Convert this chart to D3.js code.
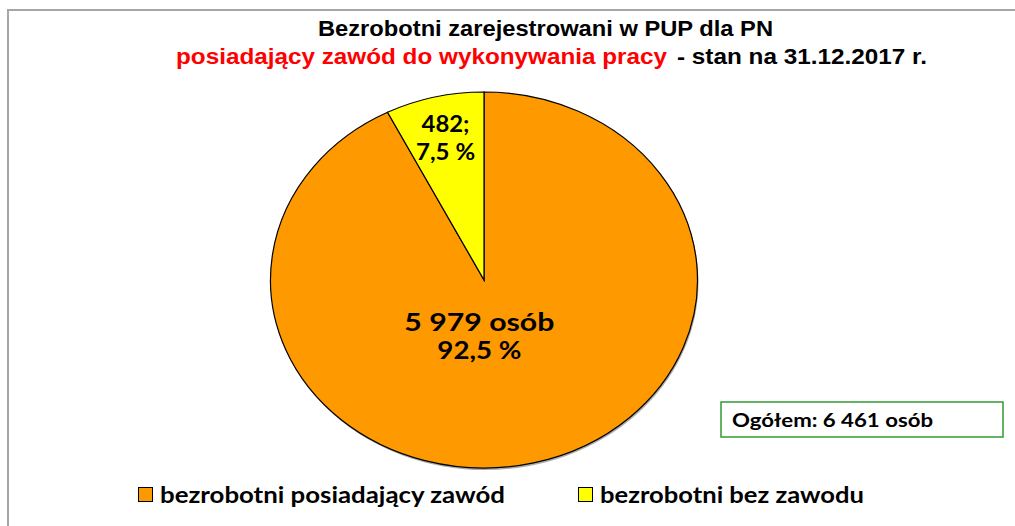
<!DOCTYPE html>
<html>
<head>
<meta charset="utf-8">
<script src="https://cdn.jsdelivr.net/npm/d3@7"></script>
<style>
    body { margin: 0; background: #fff; }
    text { font-family: Lato, "Open Sans", sans-serif; font-weight: bold; }
    text.title { font-family: "Liberation Sans", Arial, sans-serif; }
</style>
</head>
<body>
<svg id="drawing_region"></svg>
<script>
// data
const categories = ['bezrobotni posiadający zawód', 'bezrobotni bez zawodu'];
const values = [5979, 482];
const colors = ['#FF9900', '#FFFF00'];
const slice_labels = [['5 979 osób', '92,5 %'], ['482;', '7,5 %']];
const total_label = 'Ogółem: 6 461 osób';
const title_line1 = 'Bezrobotni zarejestrowani w PUP dla PN';
const title_red = 'posiadający zawód do wykonywania pracy';
const title_black = '- stan na 31.12.2017 r.';

var config = {
    parent: '#drawing_region',
    width: 1015,
    height: 526,
    cx: 484,
    cy: 280,
    rx: 213.5,
    ry: 188
};

class PieChart {

    constructor( config, data ) {
        this.config = config;
        this.data = data;
        this.init();
    }

    init() {
        let self = this;

        self.svg = d3.select( self.config.parent )
            .attr('width', self.config.width)
            .attr('height', self.config.height);

        // grey frame (left and top only)
        self.frame = self.svg.append('path')
            .attr('d', `M8,${self.config.height} V10 H${self.config.width}`)
            .attr('fill', 'none')
            .attr('stroke', '#a6a6a6')
            .attr('stroke-width', 2);

        self.pie = d3.pie()
            .sort(null)
            .value( d => d.value );

        self.arc = d3.arc()
            .innerRadius(0)
            .outerRadius(self.config.ry);

        // soft shadow under the pie
        self.svg.append('ellipse')
            .attr('cx', self.config.cx + 1)
            .attr('cy', self.config.cy + 2)
            .attr('rx', self.config.rx)
            .attr('ry', self.config.ry)
            .attr('fill', '#555')
            .attr('opacity', 0.5);

        self.chart = self.svg.append('g')
            .attr('transform', `translate(${self.config.cx}, ${self.config.cy}) scale(${self.config.rx / self.config.ry}, 1)`);
    }

    render() {
        let self = this;
        const sx = self.config.rx / self.config.ry;
        const arcs = self.pie( self.data );

        self.chart.selectAll('path')
            .data(arcs)
            .enter()
            .append('path')
            .attr('d', self.arc)
            .attr('fill', d => d.data.color)
            .attr('stroke', '#000')
            .attr('stroke-width', 1.2)
            .attr('vector-effect', 'non-scaling-stroke');

        // slice labels
        const label_r = [0.31, 0.775];
        const label_size = [24, 22];
        const label_len = [[150, 84], [48, 59]];
        arcs.forEach( (d, i) => {
            const a = (d.startAngle + d.endAngle) / 2;
            const r = self.config.ry * label_r[i];
            const x = self.config.cx + Math.sin(a) * r * sx - (i == 0 ? 20 : 0);
            const y = self.config.cy - Math.cos(a) * r;
            d.data.label.forEach( (t, j) => {
                self.svg.append('text')
                    .attr('x', x)
                    .attr('y', y + (j - 0.5) * 28 + 8)
                    .attr('text-anchor', 'middle')
                    .attr('font-size', label_size[i])
                    .attr('textLength', label_len[i][j])
                    .attr('lengthAdjust', 'spacingAndGlyphs')
                    .text(t);
            });
        });

        // title
        self.svg.append('text')
            .attr('class', 'title')
            .attr('x', 318)
            .attr('y', 36)
            .attr('font-size', 22)
            .attr('textLength', 455)
            .attr('lengthAdjust', 'spacingAndGlyphs')
            .text(title_line1);
        self.svg.append('text')
            .attr('class', 'title')
            .attr('x', 176)
            .attr('y', 64)
            .attr('font-size', 22)
            .attr('fill', '#FF0000')
            .attr('textLength', 491)
            .attr('lengthAdjust', 'spacingAndGlyphs')
            .text(title_red);
        self.svg.append('text')
            .attr('class', 'title')
            .attr('x', 677)
            .attr('y', 64)
            .attr('font-size', 22)
            .attr('textLength', 250)
            .attr('lengthAdjust', 'spacingAndGlyphs')
            .text(title_black);

        // total box
        self.svg.append('rect')
            .attr('x', 721)
            .attr('y', 402)
            .attr('width', 282)
            .attr('height', 35)
            .attr('fill', '#fff')
            .attr('stroke', '#339933')
            .attr('stroke-width', 1.5);
        self.svg.append('text')
            .attr('x', 732)
            .attr('y', 427)
            .attr('font-size', 18)
            .attr('textLength', 201)
            .attr('lengthAdjust', 'spacingAndGlyphs')
            .text(total_label);

        // legend
        const legend_x = [138, 578];
        const legend_len = [345, 264];
        const legend = self.svg.selectAll('.legend')
            .data(self.data)
            .enter()
            .append('g')
            .attr('class', 'legend')
            .attr('transform', (d, i) => `translate(${legend_x[i]}, 487)`);
        legend.append('rect')
            .attr('x', 0.5)
            .attr('y', 0.5)
            .attr('width', 14)
            .attr('height', 14)
            .attr('fill', d => d.color)
            .attr('stroke', '#000')
            .attr('stroke-width', 1);
        legend.append('text')
            .attr('x', 22)
            .attr('y', 16)
            .attr('font-size', 22)
            .attr('textLength', (d, i) => legend_len[i])
            .attr('lengthAdjust', 'spacingAndGlyphs')
            .text(d => d.name);
    }
}

const data = categories.map( (c, i) => ({
    name: c, value: values[i], color: colors[i], label: slice_labels[i]
}));

const pie_chart = new PieChart( config, data );
pie_chart.render();
</script>
</body>
</html>
